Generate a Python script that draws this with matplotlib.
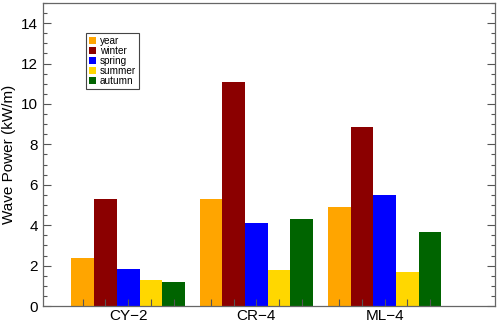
import numpy as np
import matplotlib.pyplot as plt

plt.rcParams['font.family'] = ['Liberation Sans', 'DejaVu Sans']

# data
stations = ['CY\u22122', 'CR\u22124', 'ML\u22124']
seasons = ['year', 'winter', 'spring', 'summer', 'autumn']
year = [2.40, 5.31, 4.89]
winter = [5.31, 11.07, 8.87]
spring = [1.83, 4.13, 5.47]
summer = [1.29, 1.78, 1.66]
autumn = [1.18, 4.31, 3.68]
colors = ['#FFA500', '#8B0000', '#0000FF', '#FFD700', '#006400']

values = [year, winter, spring, summer, autumn]

fig = plt.figure(figsize=(4.98, 3.26), dpi=100)
ax = fig.add_axes([0.0863, 0.0613, 0.9077, 0.9297])

x = np.arange(1, len(stations) + 1)
w = 0.177
centers = []
for i, (name, vals, c) in enumerate(zip(seasons, values, colors)):
    pos = x + (i - 2) * w
    ax.bar(pos, vals, width=w, color=c, label=name, linewidth=0)
    centers.extend(pos)

ax.set_xlim(0.336, 3.86)
ax.set_ylim(0, 15)

# labels at station centres, small ticks at every bar centre
ax.xaxis.remove_overlapping_locs = False
ax.set_xticks(x)
ax.set_xticklabels(stations)
ax.set_xticks(centers, minor=True)
ax.tick_params(axis='x', which='major', length=0, labelsize=11, pad=2.5)
ax.tick_params(axis='x', which='minor', direction='in', length=5, width=0.8, color='#555555')

ax.set_yticks(np.arange(0, 15, 2))
ax.set_yticks(np.arange(0, 15.01, 0.5), minor=True)
ax.tick_params(axis='y', which='both', direction='in', right=True, color='#555555', width=0.8)
ax.tick_params(axis='y', which='major', length=6, labelsize=11)
ax.tick_params(axis='y', which='minor', length=3)

for s in ax.spines.values():
    s.set_color('#666666')
    s.set_linewidth(0.9)

ax.set_ylabel('Wave Power (kW/m)', fontsize=11, labelpad=4)

leg = ax.legend(loc='upper left', bbox_to_anchor=(0.095, 0.901), borderaxespad=0,
                fontsize=7.2, handlelength=0.75, handleheight=0.75, handletextpad=0.35,
                labelspacing=0.0, borderpad=0.3, fancybox=False, framealpha=1,
                edgecolor='#444444')
leg.get_frame().set_linewidth(0.8)

fig.savefig('out.png', dpi=100)
